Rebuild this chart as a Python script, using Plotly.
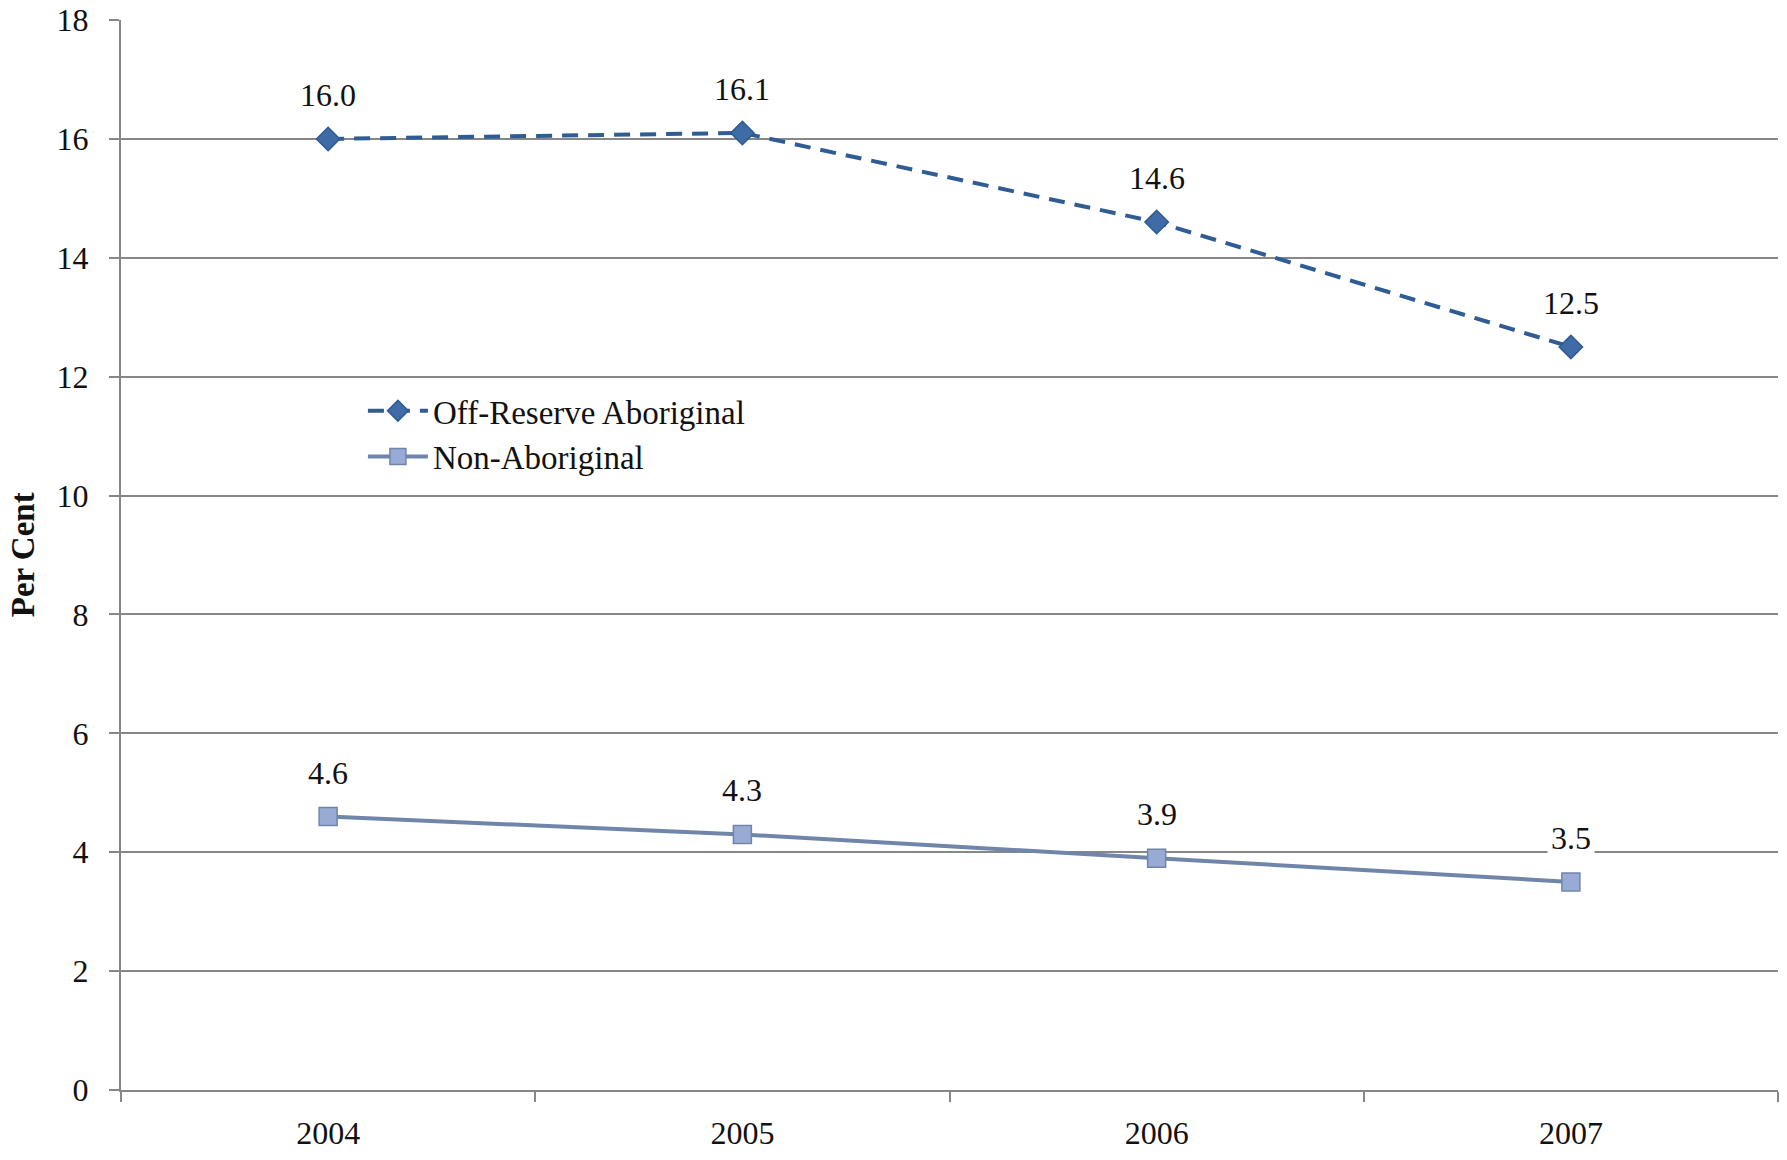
import plotly.graph_objects as go

years = ["2004", "2005", "2006", "2007"]
off_reserve = [16.0, 16.1, 14.6, 12.5]
non_aboriginal = [4.6, 4.3, 3.9, 3.5]
y_ticks = [0, 2, 4, 6, 8, 10, 12, 14, 16, 18]

SERIF = "Liberation Serif, Times New Roman, serif"
GRID = "#878787"

fig = go.Figure()
fig.add_trace(go.Scatter(
    x=years, y=off_reserve, name="Off-Reserve Aboriginal", mode="lines+markers",
    line=dict(color="#2F5C93", width=4, dash="16px,10px"),
    marker=dict(symbol="diamond", size=18, color="#3F6BA6", line=dict(color="#2F5C93", width=1.5)),
))
fig.add_trace(go.Scatter(
    x=years, y=non_aboriginal, name="Non-Aboriginal", mode="lines+markers",
    line=dict(color="#7085AA", width=4),
    marker=dict(symbol="square", size=18, color="#98ABD5", line=dict(color="#7085AA", width=1.5)),
))

for series in (off_reserve, non_aboriginal):
    for i, v in enumerate(series):
        fig.add_annotation(
            x=i, xref="x", y=v, yref="y", text=f"{v:.1f}", showarrow=False, yshift=44,
            font=dict(family=SERIF, size=32, color="#111"),
            bgcolor="white", borderpad=3,
        )

fig.add_annotation(
    xref="paper", yref="paper", x=-0.059, y=0.5, xanchor="center", yanchor="middle",
    text="<b>Per Cent</b>", textangle=-90, showarrow=False,
    font=dict(family=SERIF, size=33, color="#111"),
)

fig.update_layout(
    width=1787, height=1160,
    margin=dict(l=113, r=17, t=12, b=78, autoexpand=False),
    plot_bgcolor="white", paper_bgcolor="white",
    font=dict(family=SERIF, size=32, color="#111"),
    showlegend=True,
    legend=dict(
        x=0.146, y=0.661, xanchor="left", yanchor="top",
        bgcolor="rgba(0,0,0,0)", font=dict(family=SERIF, size=33, color="#111"),
        itemwidth=60, tracegroupgap=0,
    ),
    xaxis=dict(
        type="category", range=[-0.5, 3.5], tickson="boundaries", automargin=False,
        showgrid=False, showline=True, linecolor=GRID, linewidth=2,
        ticks="outside", ticklen=10, tickcolor=GRID, tickwidth=2,
        tickfont=dict(family=SERIF, size=32, color="#111"),
        ticklabelstandoff=14, ticklabeloverflow="allow",
    ),
    yaxis=dict(
        range=[0, 18], tickvals=y_ticks, showgrid=True, gridcolor=GRID, gridwidth=1.5,
        showline=True, linecolor=GRID, linewidth=2, zeroline=False, automargin=False,
        ticks="outside", ticklen=10, tickcolor=GRID, tickwidth=2,
        tickfont=dict(family=SERIF, size=32, color="#111"),
        ticklabelstandoff=14, ticklabeloverflow="allow",
    ),
)

fig.write_html("out.html")
